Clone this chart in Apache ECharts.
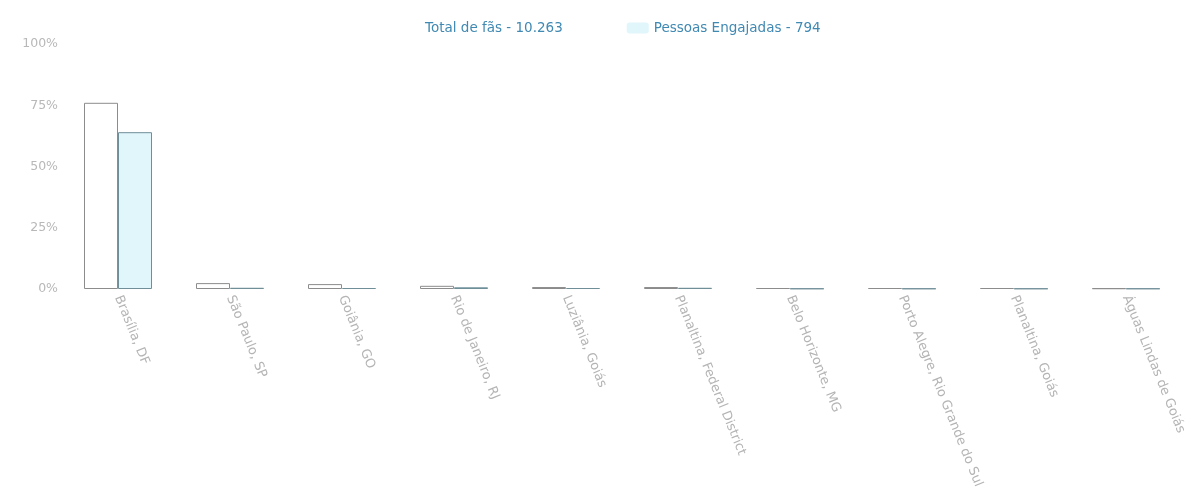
<!DOCTYPE html>
<html>
<head>
<meta charset="utf-8">
<script src="https://cdn.jsdelivr.net/npm/echarts@6/dist/echarts.min.js"></script>
<style>
  html, body { margin: 0; padding: 0; background: #fff; }
  #chart { width: 1192px; height: 504px; }
</style>
</head>
<body>
<div id="chart"></div>
<script>
// cidades
const categories = [
  'Brasília, DF',
  'São Paulo, SP',
  'Goiânia, GO',
  'Rio de Janeiro, RJ',
  'Luziânia, Goiás',
  'Planaltina, Federal District',
  'Belo Horizonte, MG',
  'Porto Alegre, Rio Grande do Sul',
  'Planaltina, Goiás',
  'Águas Lindas de Goiás'
]
const seriesNames = ['Total de fãs - 10.263', 'Pessoas Engajadas - 794']
// valores em %
const totalFas = [76, 2.4, 2.0, 1.3, 0.8, 0.8, 0.4, 0.4, 0.4, 0.3]
const engajadas = [64, 0.5, 0.4, 0.7, 0.4, 0.5, 0.2, 0.2, 0.2, 0.2]

const myChart = echarts.init(document.getElementById('chart'))
myChart.setOption({
  animation: false,
  legend: {
    data: seriesNames.map(name => ({ name, itemStyle: { borderWidth: 0 } })),
    top: 16,
    left: 393,
    itemWidth: 22,
    itemHeight: 11,
    itemGap: 64,
    textStyle: {
      color: '#4089b3',
      fontSize: 13.5,
      fontFamily: 'DejaVu Sans'
    }
  },
  grid: {
    left: 62,
    right: 10,
    top: 44,
    bottom: 215
  },
  xAxis: {
    type: 'category',
    data: categories,
    axisLine: { show: false },
    axisTick: { show: false },
    axisLabel: {
      interval: 0,
      rotate: -68,
      margin: 7,
      color: '#b4b4b4',
      fontSize: 13,
      fontFamily: 'DejaVu Sans'
    }
  },
  yAxis: {
    type: 'value',
    min: 0,
    max: 100,
    interval: 25,
    axisLine: { show: false },
    axisTick: { show: false },
    splitLine: { show: false },
    axisLabel: {
      formatter: '{value}%',
      margin: 4,
      color: '#b8b8b8',
      fontSize: 12.5,
      fontFamily: 'DejaVu Sans'
    }
  },
  series: [
    {
      name: seriesNames[0],
      type: 'bar',
      data: totalFas,
      barWidth: 34,
      barGap: '0%',
      itemStyle: {
        color: '#ffffff',
        borderColor: '#8c8c8c',
        borderWidth: 1
      }
    },
    {
      name: seriesNames[1],
      type: 'bar',
      data: engajadas,
      barWidth: 34,
      itemStyle: {
        color: '#e1f6fb',
        borderColor: '#6f8e98',
        borderWidth: 1
      }
    }
  ]
})
</script>
</body>
</html>
